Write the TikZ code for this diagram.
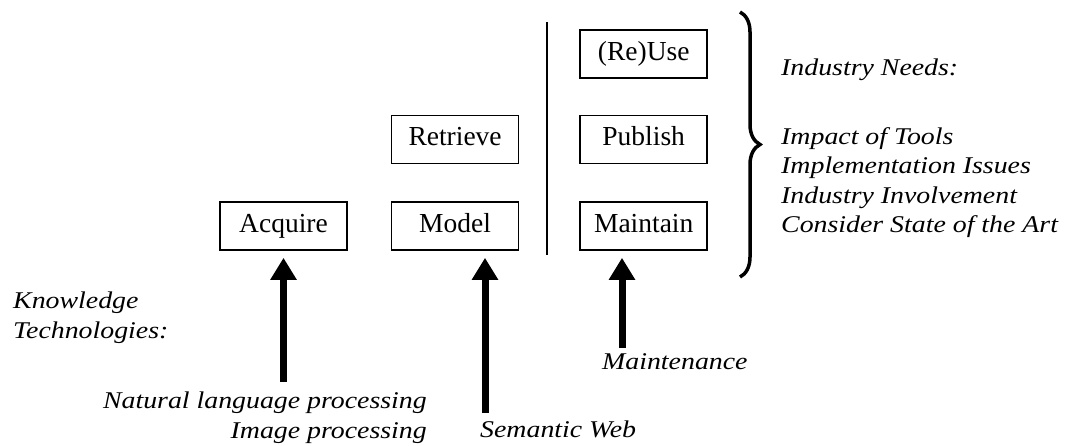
\documentclass[tikz,border=0pt]{standalone}
\usepackage{fontspec}
\setmainfont{Liberation Serif}
\newfontfamily\labelfont{Liberation Serif}[FakeStretch=1.16]
\usetikzlibrary{positioning,arrows.meta,decorations.pathreplacing}

\begin{document}
\begin{tikzpicture}[
        x=1pt, y=-1pt,
        task/.style={
                rectangle,
                draw=black,
                line width=1.6pt,
                minimum width=127pt,
                minimum height=48pt,
                inner sep=0pt,
                text height=18pt,
                text depth=5pt,
                font=\fontsize{27.5}{30}\selectfont
            },
        caption/.style = {inner sep=0pt, font=\labelfont\itshape\fontsize{24}{29.5}\selectfont},
        bigarrow/.style = {line width=7pt, -{Triangle[width=25pt,length=22pt]}, shorten >=7pt},
        brace/.style = {decorate, decoration={brace,amplitude=20pt}, line width=3.5pt}
    ]
    \useasboundingbox (0,0) rectangle (1067,446);

    \node[task] (acquire) at (283.5,226) {Acquire};
    \node[task] (model) [right=43pt of acquire] {Model};
    \node[task] (retrieve) [above=37pt of model] {Retrieve};
    \node[task] (maintain) [right=60pt of model] {Maintain};
    \node[task] (publish) [above=37pt of maintain] {Publish};
    \node[task] (reuse) [above=36pt of publish] {(Re)Use};

    \draw[line width=1.2pt] (547,22) -- (547,255);
    \draw[brace] (740,12) -- (740,277);

    % multi-line captions sit on the baseline of their last line
    \node[caption, anchor=base west, align=left] (knowtech) at (13,338) {Knowledge\\Technologies:};
    \node[caption, anchor=base east, align=right] (nlp) at (427,438) {Natural language processing\\Image processing};
    \node[caption, anchor=base west] (semweb) at (480,437) {Semantic Web};
    \node[caption, anchor=base west] (maintenance) at (602,369) {Maintenance};
    \node[caption, anchor=base west] (needs) at (781,76) {Industry Needs:};
    \node[caption, anchor=base west, align=left] (issues) at (781,233)
        {Impact of Tools\\Implementation Issues\\Industry Involvement\\Consider State of the Art};

    \coordinate (acqfoot) at (283.5,382);
    \coordinate (modfoot) at (485,413);
    \coordinate (mntfoot) at (622,348);
    \draw[bigarrow] (acqfoot) -- (acqfoot |- acquire.south);
    \draw[bigarrow] (modfoot) -- (modfoot |- model.south);
    \draw[bigarrow] (mntfoot) -- (mntfoot |- maintain.south);
\end{tikzpicture}
\end{document}
